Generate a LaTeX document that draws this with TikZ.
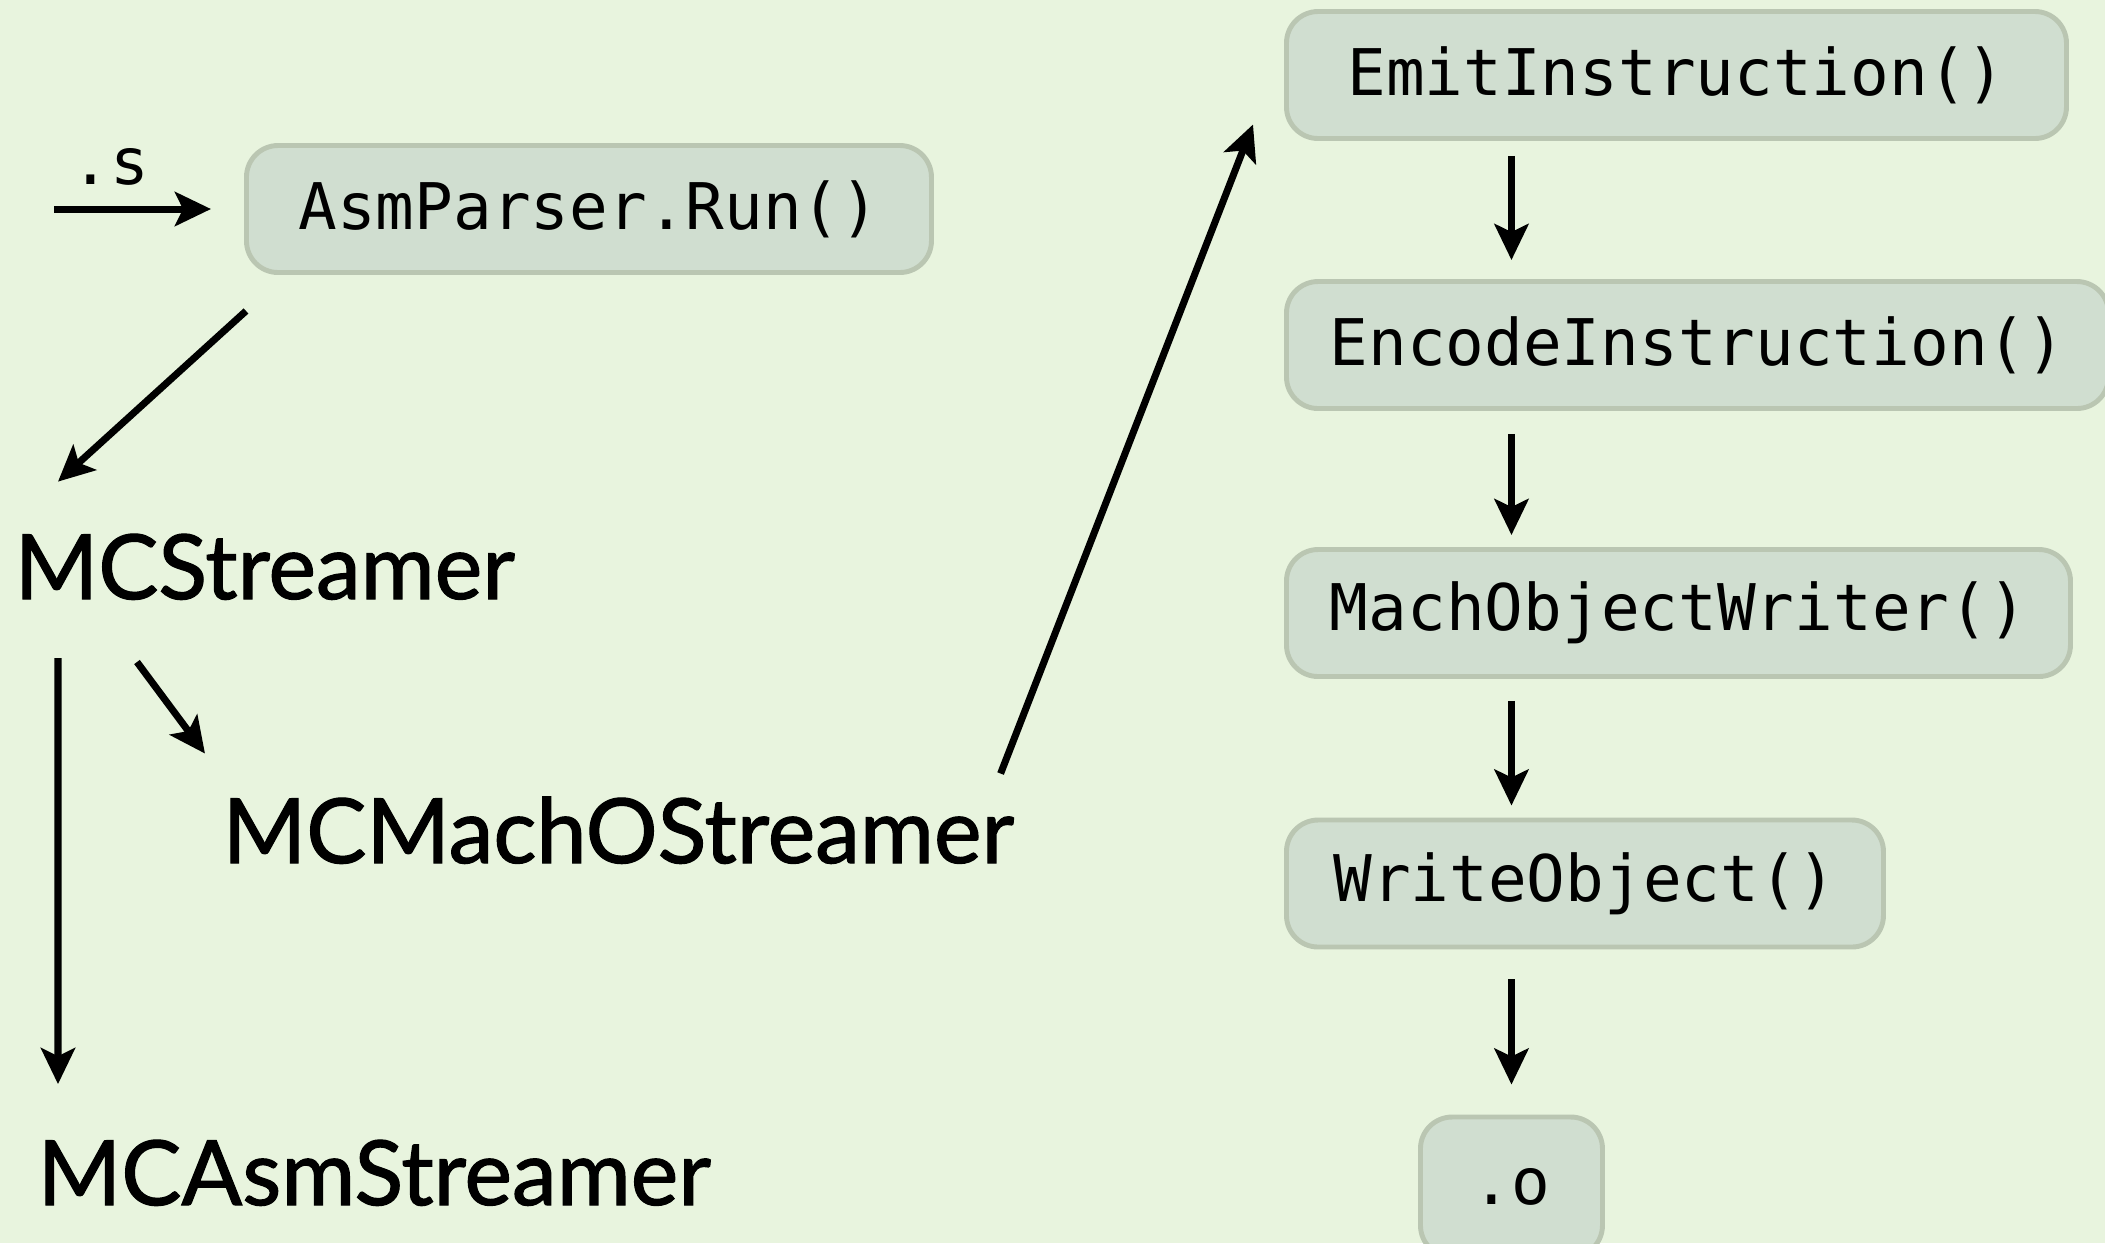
\documentclass[tikz,border=0pt]{standalone}
\usepackage{fontspec}
\setmainfont{Lato}
\setmonofont{DejaVu Sans Mono}
\newfontfamily\labelfont{Lato}[FakeBold=1.3]
\usepackage{tikz}
\usetikzlibrary{arrows.meta, positioning, calc}
\definecolor{clrBack}{HTML}{E8F4DE}
\definecolor{clrBox}{HTML}{D0DED0}
\definecolor{clrBorder}{HTML}{BAC6B2}

\begin{document}
\begin{tikzpicture}[
    call/.style={rectangle, draw=clrBorder, fill=clrBox, line width=1.4pt, rounded corners=9pt, minimum height=1.27cm, anchor=west, font=\fontsize{18.3}{21}\selectfont\ttfamily},
    streamer/.style={inner sep=0pt, anchor=base west, font=\fontsize{25.6}{30}\selectfont\labelfont},
    arrow/.style={-{Stealth[length=0.36cm, width=0.34cm, inset=0.08cm]}, line width=2pt, black},
]

% Page
\fill[clrBack] (0,0) rectangle (21.05,-12.43);
\useasboundingbox (0,0) rectangle (21.05,-12.43);

% Parser
\node[call, minimum width=6.85cm] (asm) at (2.44,-2.09) {AsmParser.Run()};
\coordinate (src) at (0.54,-2.09);
\draw[arrow] (src) -- node[pos=0.36, above=0.2cm, font=\fontsize{18.3}{21}\selectfont\ttfamily, inner sep=0pt] {.s} ([xshift=-0.33cm]asm.west);

% Streamers
\node[streamer] (mcs) at (0.14,-5.99) {MCStreamer};
\node[streamer] (macho) at (2.22,-8.63) {MCMachOStreamer};
\node[streamer] (mcasm) at (0.37,-12.05) {MCAsmStreamer};

\draw[arrow] ($(asm.south west)+(0.02,-0.36)$) -- ($(mcs.north west)+(0.44,0.515)$);
\draw[arrow] ($(mcs.base west)+(0.44,-0.59)$) -- ($(mcasm.north west)+(0.21,0.55)$);
\draw[arrow] ($(mcs.base west)+(1.23,-0.63)$) -- ($(macho.north west)+(-0.17,0.425)$);

% Object writer chain
\node[call, minimum width=7.8cm] (emit) at (12.84,-0.75) {EmitInstruction()\hspace{0.3cm}};
\node[call, minimum width=8.22cm] (encode) at (12.84,-3.45) {EncodeInstruction()};
\node[call, minimum width=7.84cm] (writer) at (12.84,-6.13) {MachObjectWriter()};
\node[call, minimum width=5.97cm] (wobj) at (12.84,-8.835) {WriteObject()};
\node[call, minimum width=1.82cm, minimum height=1.4cm] (obj) at (14.18,-11.87) {.o};

\draw[arrow] ($(macho.north east)+(-0.14,0.225)$) -- ($(emit.south west)+(-0.31,0.165)$);

\draw[arrow] ($(emit.south -| obj)+(0,-0.15)$) -- ($(encode.north -| obj)+(0,0.19)$);
\draw[arrow] ($(encode.south -| obj)+(0,-0.23)$) -- ($(writer.north -| obj)+(0,0.12)$);
\draw[arrow] ($(writer.south -| obj)+(0,-0.22)$) -- ($(wobj.north -| obj)+(0,0.12)$);
\draw[arrow] ($(wobj.south -| obj)+(0,-0.30)$) -- ($(obj.north)+(0,0.30)$);

\end{tikzpicture}
\end{document}
